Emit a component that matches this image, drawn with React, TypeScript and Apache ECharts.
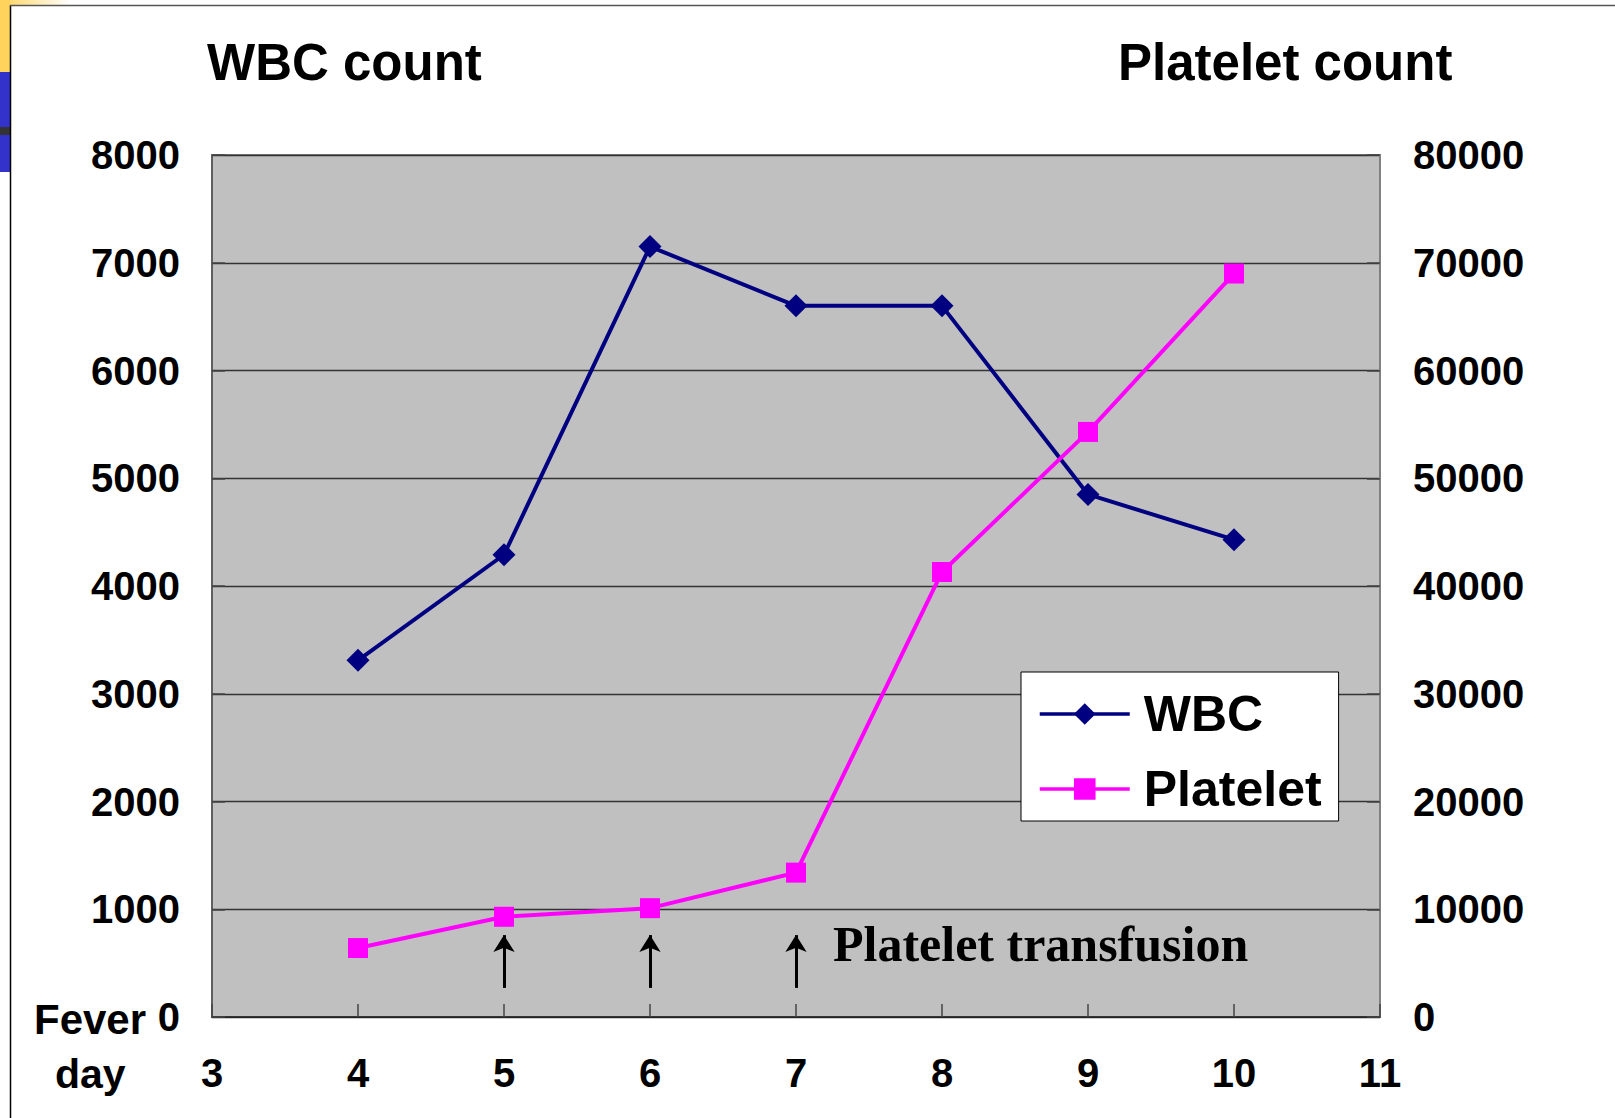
import React, { useEffect, useRef } from "react";
import * as echarts from "echarts";

// ---- data ----
const feverDays = [4, 5, 6, 7, 8, 9, 10];
const wbcCounts = [3310, 4290, 7150, 6600, 6600, 4850, 4430];
const plateletCounts = [6400, 9300, 10100, 13400, 41300, 54300, 69000];
const transfusionDays = [5, 6, 7];
const arrowFromTo = [270, 760]; // in WBC-axis units
const dayAxis = { min: 3, max: 11, interval: 1 };
const wbcAxis = { min: 0, max: 8000, interval: 1000 };
const plateletAxis = { min: 0, max: 80000, interval: 10000 };
const seriesNames = ["WBC", "Platelet"];

const SANS = "'Liberation Sans', Arial, sans-serif";
const SERIF = "'Liberation Serif', 'Times New Roman', serif";

export default function App() {
  const ref = useRef<HTMLDivElement>(null);

  useEffect(() => {
    if (!ref.current) return;
    const chart = echarts.init(ref.current, undefined, { renderer: "svg" });

    const labelStyle = {
      fontSize: 40,
      fontWeight: "bold" as const,
      fontFamily: SANS,
      color: "#000",
      formatter: (v: number) => String(v),
    };

    const option: any = {
      animation: false,
      backgroundColor: "#fff",
      grid: {
        left: 212,
        top: 155,
        right: 235,
        bottom: 101,
        show: true,
        backgroundColor: "#C0C0C0",
        borderColor: "#808080",
        borderWidth: 2,
      },
      legend: {
        orient: "vertical",
        left: 1021,
        top: 672,
        itemWidth: 90,
        itemHeight: 27,
        itemGap: 19,
        padding: [14, 17, 4, 17],
        backgroundColor: "#fff",
        borderColor: "#000",
        borderWidth: 1,
        data: seriesNames,
        lineStyle: { width: 3.5 },
        textStyle: {
          fontSize: 50,
          fontWeight: "bold",
          fontFamily: SANS,
          color: "#000",
          lineHeight: 56,
          padding: [0, 0, 0, 9],
        },
      },
      xAxis: {
        type: "value",
        min: dayAxis.min,
        max: dayAxis.max,
        interval: dayAxis.interval,
        axisLine: { show: true, lineStyle: { color: "#222", width: 1.5 } },
        axisTick: { show: true, inside: true, length: 13, lineStyle: { color: "#444", width: 1.5 } },
        splitLine: { show: false },
        axisLabel: { ...labelStyle, margin: 36 },
      },
      yAxis: [
        {
          type: "value",
          position: "left",
          min: wbcAxis.min,
          max: wbcAxis.max,
          interval: wbcAxis.interval,
          axisLine: { show: true, lineStyle: { color: "#555", width: 1.5 } },
          axisTick: { show: true, inside: true, length: 13, lineStyle: { color: "#444", width: 1.5 } },
          splitLine: { show: true, lineStyle: { color: "#333", width: 1.3 } },
          axisLabel: { ...labelStyle, margin: 32 },
        },
        {
          type: "value",
          position: "right",
          min: plateletAxis.min,
          max: plateletAxis.max,
          interval: plateletAxis.interval,
          axisLine: { show: true, lineStyle: { color: "#808080", width: 2 } },
          axisTick: { show: true, inside: true, length: 13, lineStyle: { color: "#444", width: 1.5 } },
          splitLine: { show: false },
          axisLabel: { ...labelStyle, margin: 33 },
        },
      ],
      series: [
        {
          name: seriesNames[0],
          type: "line",
          yAxisIndex: 0,
          data: feverDays.map((d, i) => [d, wbcCounts[i]]),
          symbol: "diamond",
          symbolSize: 23,
          lineStyle: { color: "#000080", width: 4 },
          itemStyle: { color: "#000080" },
          z: 3,
          markLine: {
            silent: true,
            symbol: ["none", "arrow"],
            symbolSize: [16, 17],
            label: { show: false },
            lineStyle: { color: "#000", width: 3, type: "solid" },
            emphasis: { disabled: true },
            data: transfusionDays.map((d) => [
              { coord: [d, arrowFromTo[0]] },
              { coord: [d, arrowFromTo[1]] },
            ]),
          },
        },
        {
          name: seriesNames[1],
          type: "line",
          yAxisIndex: 1,
          data: feverDays.map((d, i) => [d, plateletCounts[i]]),
          symbol: "rect",
          symbolSize: 20,
          lineStyle: { color: "#FF00FF", width: 4 },
          itemStyle: { color: "#FF00FF" },
          z: 3,
        },
      ],
      graphic: [
        {
          type: "rect",
          shape: { x: 0, y: 0, width: 70, height: 5 },
          style: {
            fill: new echarts.graphic.LinearGradient(0, 0, 1, 0, [
              { offset: 0, color: "#FFD35C" },
              { offset: 1, color: "#FFFFFF" },
            ]),
          },
        },
        { type: "rect", shape: { x: 0, y: 0, width: 10, height: 72 }, style: { fill: "#FFD35C" } },
        { type: "rect", shape: { x: 0, y: 72, width: 10, height: 55 }, style: { fill: "#3333CC" } },
        { type: "rect", shape: { x: 0, y: 127, width: 10, height: 8 }, style: { fill: "#333333" } },
        { type: "rect", shape: { x: 0, y: 135, width: 10, height: 37 }, style: { fill: "#3333CC" } },
        {
          type: "line",
          shape: { x1: 10.5, y1: 5, x2: 10.5, y2: 1118 },
          style: { stroke: "#000", lineWidth: 1.5 },
        },
        {
          type: "line",
          shape: { x1: 10, y1: 5.5, x2: 1615, y2: 5.5 },
          style: { stroke: "#555", lineWidth: 1.5 },
        },
        {
          type: "text",
          x: 207,
          y: 62,
          style: {
            text: "WBC count",
            fontSize: 51,
            fontWeight: "bold",
            fontFamily: SANS,
            fill: "#000",
            align: "left",
            verticalAlign: "middle",
          },
        },
        {
          type: "text",
          x: 1118,
          y: 62,
          style: {
            text: "Platelet count",
            fontSize: 51,
            fontWeight: "bold",
            fontFamily: SANS,
            fill: "#000",
            align: "left",
            verticalAlign: "middle",
          },
        },
        {
          type: "text",
          x: 34,
          y: 1019,
          style: {
            text: "Fever",
            fontSize: 42,
            fontWeight: "bold",
            fontFamily: SANS,
            fill: "#000",
            align: "left",
            verticalAlign: "middle",
          },
        },
        {
          type: "text",
          x: 55,
          y: 1074,
          style: {
            text: "day",
            fontSize: 41,
            fontWeight: "bold",
            fontFamily: SANS,
            fill: "#000",
            align: "left",
            verticalAlign: "middle",
          },
        },
        {
          type: "text",
          x: 833,
          y: 944,
          z: 10,
          style: {
            text: "Platelet transfusion",
            fontSize: 50,
            fontWeight: "bold",
            fontFamily: SERIF,
            fill: "#000",
            align: "left",
            verticalAlign: "middle",
          },
        },
      ],
    };

    chart.setOption(option);
    return () => chart.dispose();
  }, []);

  return (
    <div
      ref={ref}
      style={{ position: "fixed", left: 0, top: 0, width: 1615, height: 1118 }}
    />
  );
}
